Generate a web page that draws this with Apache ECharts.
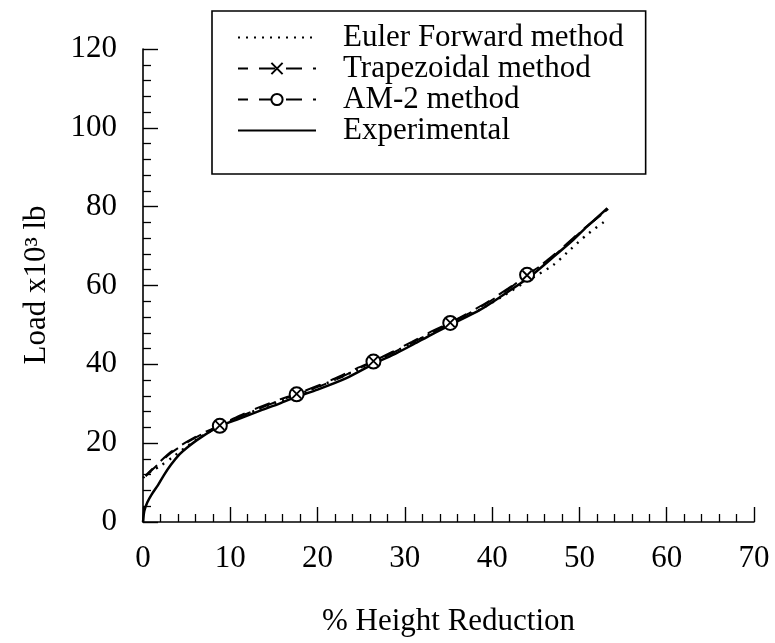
<!DOCTYPE html>
<html>
<head>
<meta charset="utf-8">
<script src="https://cdn.jsdelivr.net/npm/echarts@6/dist/echarts.min.js"></script>
<style>
  html, body { margin: 0; padding: 0; background: #fff; }
  #chart { width: 775px; height: 643px; }
</style>
</head>
<body>
<div id="chart"></div>
<script>
// values (x = % height reduction, y = load x10^3 lb)
const expX = [0, 0.15, 0.5, 1.0, 1.7, 2.4, 3.2, 4.2, 5.0, 6.6, 8.8, 11, 13.5, 15.7, 17.6, 20, 23.3, 26.5, 29, 31, 33, 35.4, 38.6, 41, 44.2, 47, 49.3, 50.8, 52, 53.2];
const expY = [0, 2.8, 5.0, 7.0, 9.3, 11.9, 14.5, 17.2, 18.8, 21.4, 24.3, 26.2, 28.3, 30.1, 31.8, 33.6, 36.5, 40.2, 42.8, 45.1, 47.5, 50.2, 53.8, 57.2, 62.0, 67.2, 71.6, 74.8, 77.2, 79.6];

const eulerX = [0, 0.9, 2.1, 3.3, 4.8, 6.6, 8.8, 13.2, 17.6, 22, 26.4, 30.8, 35.2, 38.6, 41, 44.2, 47, 49, 50.8, 53.1];
const eulerY = [11.2, 12.8, 14.4, 16.3, 18.8, 21.6, 24.3, 28.6, 32.2, 36.1, 40.5, 45.4, 50.3, 53.9, 57.0, 61.4, 65.2, 69.2, 72.8, 76.6];

const methodX = [0.3, 1.6, 3.2, 4.9, 6.6, 8.8, 11, 13.2, 15.4, 17.6, 19.8, 22, 24.2, 26.4, 28.6, 30.8, 33, 35.2, 37.4, 39.6, 41.8, 44, 46.2, 48.4, 50.6, 53.3];
const trapY = [11.8, 14.6, 17.8, 20.2, 22.3, 24.5, 26.9, 29.0, 30.9, 32.5, 34.4, 36.4, 38.7, 40.8, 43.2, 45.7, 48.3, 50.6, 53.2, 56.0, 59.2, 62.6, 66.2, 70.3, 74.6, 79.4];
const am2Y = [11.6, 14.4, 17.5, 20.0, 22.1, 24.4, 26.6, 28.7, 30.6, 32.4, 34.1, 36.0, 38.4, 40.7, 42.9, 45.4, 48.0, 50.5, 53.0, 55.8, 59.0, 62.7, 66.0, 70.1, 74.5, 79.4];
// points where the method curves carry a marker
const markerX = [8.8, 17.6, 26.4, 35.2, 44];

const xTicks = { min: 0, max: 70, interval: 10 };
const yTicks = { min: 0, max: 120, interval: 20 };

const font = "Liberation Serif";
const chart = echarts.init(document.getElementById("chart"));

function pairs(xs, ys) {
  return xs.map((x, i) => [x, ys[i]]);
}

function withMarkers(xs, ys) {
  return xs.map((x, i) =>
    markerX.includes(x) ? { value: [x, ys[i]] } : { value: [x, ys[i]], symbol: "none" }
  );
}

const axisCommon = {
  type: "value",
  axisLine: { show: true, lineStyle: { color: "#000", width: 1.6 } },
  axisTick: { show: true, inside: true, length: 15, lineStyle: { color: "#000", width: 1.4 } },
  minorTick: { show: true, splitNumber: 5, length: 8, lineStyle: { color: "#000", width: 1.3 } },
  splitLine: { show: false },
  minorSplitLine: { show: false },
};

// hide the dot that ECharts puts on legend lines of series without markers
const noDot = { opacity: 0 };

const option = {
  backgroundColor: "#fff",
  animation: false,
  grid: { left: 143, right: 21, top: 49, bottom: 121, containLabel: false, outerBoundsMode: "none" },
  legend: {
    orient: "vertical",
    left: 212,
    top: 11,
    padding: [11, 22, 28, 25],
    itemWidth: 78,
    itemHeight: 14,
    itemGap: 0,
    borderColor: "#000",
    borderWidth: 1.6,
    backgroundColor: "#fff",
    data: [
      { name: "Euler Forward method", itemStyle: noDot },
      { name: "Trapezoidal method" },
      { name: "AM-2 method" },
      { name: "Experimental", itemStyle: noDot },
    ],
    textStyle: { color: "#000", fontFamily: font, fontSize: 31, lineHeight: 31, padding: [0, 0, 0, 22] },
  },
  xAxis: {
    ...axisCommon,
    ...xTicks,
    name: "% Height Reduction",
    nameLocation: "middle",
    nameGap: 84,
    nameTextStyle: { color: "#000", fontFamily: font, fontSize: 31 },
    axisLabel: { color: "#000", fontFamily: font, fontSize: 31, margin: 21 },
  },
  yAxis: {
    ...axisCommon,
    ...yTicks,
    axisLabel: { color: "#000", fontFamily: font, fontSize: 31, margin: 26 },
  },
  graphic: [
    {
      type: "text",
      x: 37,
      y: 285,
      rotation: Math.PI / 2,
      style: {
        text: "Load x10³ lb",
        fill: "#000",
        font: "31px " + font,
        align: "center",
        verticalAlign: "middle",
      },
    },
  ],
  series: [
    {
      name: "Experimental",
      type: "line",
      data: pairs(expX, expY),
      symbol: "none",
      smooth: 0.25,
      lineStyle: { color: "#000", width: 2.5 },
      itemStyle: { color: "#000" },
    },
    {
      name: "Euler Forward method",
      type: "line",
      data: pairs(eulerX, eulerY),
      symbol: "none",
      smooth: 0.25,
      lineStyle: { color: "#000", width: 2.4, type: [2, 6] },
      itemStyle: { color: "#000" },
    },
    {
      name: "AM-2 method",
      type: "line",
      data: withMarkers(methodX, am2Y),
      symbol: "emptyCircle",
      symbolSize: 14,
      showAllSymbol: true,
      smooth: 0.25,
      lineStyle: { color: "#000", width: 2, type: [16, 11] },
      itemStyle: { color: "#000", borderWidth: 2 },
    },
    {
      name: "Trapezoidal method",
      type: "line",
      data: withMarkers(methodX, trapY),
      symbol: "path://M0,0L10,10M10,0L0,10",
      symbolSize: 9,
      showAllSymbol: true,
      smooth: 0.25,
      lineStyle: { color: "#000", width: 2, type: [16, 11], dashOffset: 6 },
      itemStyle: { color: "#000", borderColor: "#000", borderWidth: 1.8 },
    },
  ],
};

chart.setOption(option);
</script>
</body>
</html>
